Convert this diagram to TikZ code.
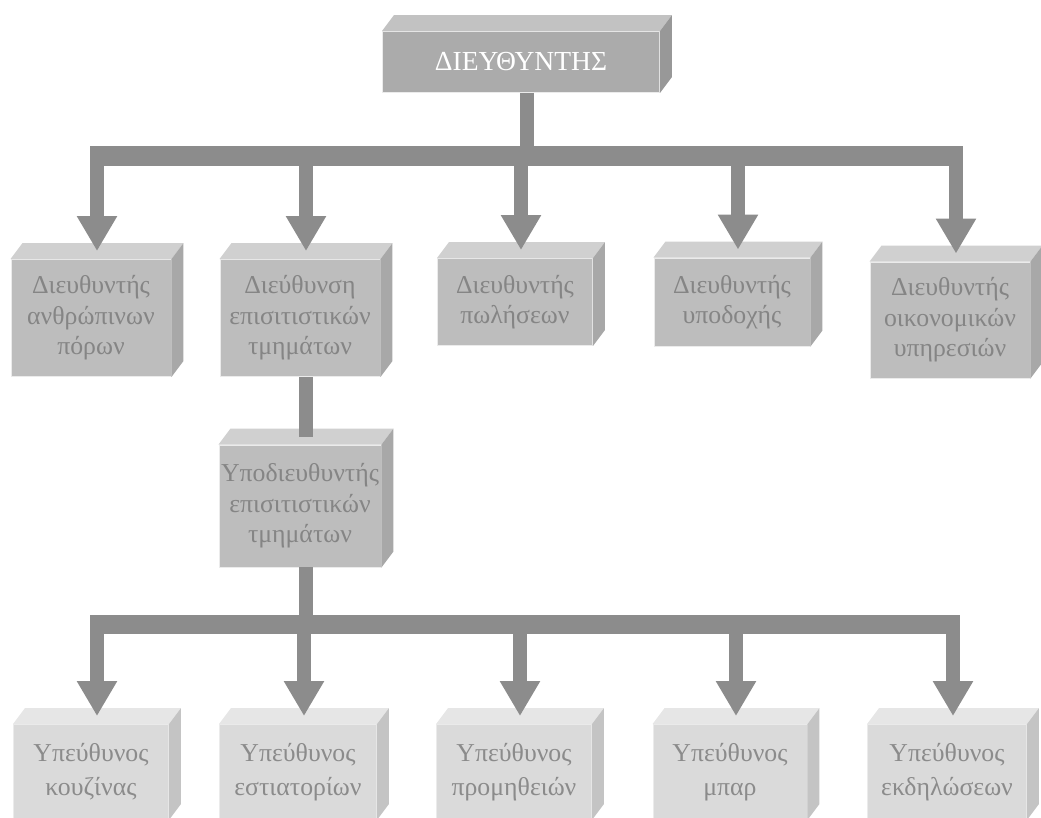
\documentclass[tikz,border=0pt]{standalone}
\usepackage{fontspec}
\setmainfont{Liberation Serif}
\usetikzlibrary{arrows.meta, calc, positioning}
\definecolor{AshFace}{HTML}{BDBDBD}
\definecolor{AshTop}{HTML}{D0D0D0}
\definecolor{AshSide}{HTML}{A8A8A8}
\definecolor{SteelFace}{HTML}{ABABAB}
\definecolor{SteelTop}{HTML}{C2C2C2}
\definecolor{SteelSide}{HTML}{989898}
\definecolor{MistFace}{HTML}{DADADA}
\definecolor{MistTop}{HTML}{E6E6E6}
\definecolor{MistSide}{HTML}{C4C4C4}
\definecolor{InkGray}{HTML}{858585}
\definecolor{PipeGray}{HTML}{8C8C8C}
\newcommand{\BoxFont}{\fontsize{22pt}{26pt}\selectfont}
\newcommand{\HeadFont}{\fontsize{23.5pt}{26pt}\selectfont}
\newcommand{\PaleFont}{\fontsize{22pt}{29pt}\selectfont}

\tikzset{
  block/.style={rectangle, inner sep=0pt, align=center, font=\BoxFont,
    text=InkGray, fill=AshFace, draw=white!70!AshFace, line width=0.8pt},
  headblock/.style={block, fill=SteelFace, text=white, font=\HeadFont},
  paleblock/.style={block, fill=MistFace, text=InkGray!95, font=\PaleFont},
  pipe/.style={draw=PipeGray, line width=0.42cm},
  bus/.style={draw=PipeGray, line width=0.57cm},
  drop/.style={pipe, -{Triangle[width=1.14cm, length=1.05cm]}}
}
% top and right faces of a block, plus the point where arrows land
\newcommand{\BlockFaces}[3]{%
  \fill[#2] (#1.north west) -- ++(12,-16) -- ($(#1.north east)+(12,-16)$) -- (#1.north east) -- cycle;
  \fill[#3] (#1.north east) -- ++(12,-16) -- ($(#1.south east)+(12,-16)$) -- (#1.south east) -- cycle;
  \coordinate (#1-top) at ($(#1.north)+(6,-8)$);}

\begin{document}
\begin{tikzpicture}[x=0.03cm, y=-0.03cm]
  \useasboundingbox (0,0) rectangle (1041,818);
  \clip (0,0) rectangle (1041,818);
  % director
  \node[headblock, minimum width=8.31cm, minimum height=1.83cm] (dir) at (521,62) {ΔΙΕΥΘΥΝΤΗΣ};
  % first level
  \node[block, minimum width=4.8cm, minimum height=3.51cm] (hr) at (91,318) {Διευθυντής\\ανθρώπινων\\πόρων};
  \node[block, minimum width=4.8cm, minimum height=3.51cm] (fb) at (300,318) {Διεύθυνση\\επισιτιστικών\\τμημάτων};
  \node[block, minimum width=4.65cm, minimum height=2.61cm] (sales) at (515,302) {Διευθυντής\\πωλήσεων};
  \node[block, minimum width=4.68cm, minimum height=2.64cm] (front) at (732,302) {Διευθυντής\\υποδοχής};
  \node[block, minimum width=4.8cm, minimum height=3.48cm] (fin) at (950,320) {Διευθυντής\\οικονομικών\\υπηρεσιών};
  % deputy
  \node[block, minimum width=4.86cm, minimum height=3.66cm] (sub) at (300,506) {Υποδιευθυντής\\επισιτιστικών\\τμημάτων};
  % heads of units
  \node[paleblock, minimum width=4.65cm, minimum height=2.85cm] (kitchen) at (91,772) {Υπεύθυνος\\κουζίνας};
  \node[paleblock, minimum width=4.71cm, minimum height=2.85cm] (rest) at (298,772) {Υπεύθυνος\\εστιατορίων};
  \node[paleblock, minimum width=4.65cm, minimum height=2.85cm] (supply) at (514,772) {Υπεύθυνος\\προμηθειών};
  \node[paleblock, minimum width=4.62cm, minimum height=2.85cm] (bar) at (730,772) {Υπεύθυνος\\μπαρ};
  \node[paleblock, minimum width=4.77cm, minimum height=2.85cm] (events) at (947,772) {Υπεύθυνος\\εκδηλώσεων};

  \BlockFaces{dir}{SteelTop}{SteelSide}
  \foreach \n in {hr,fb,sales,front,fin,sub} \BlockFaces{\n}{AshTop}{AshSide};
  \foreach \n in {kitchen,rest,supply,bar,events} \BlockFaces{\n}{MistTop}{MistSide};

  % upper tier
  \coordinate (bus1) at (dir-top |- 0,156);
  \draw[pipe] (dir-top |- dir.south) -- (bus1);
  \draw[bus] ($(hr-top |- bus1)+(-7,0)$) -- ($(fin-top |- bus1)+(7,0)$);
  \foreach \n in {hr,fb,sales,front,fin} \draw[drop] (\n-top |- bus1) -- (\n-top);
  \draw[pipe] (fb-top |- fb.south) -- (sub-top);
  % lower tier
  \coordinate (bus2) at (sub-top |- 0,624);
  \draw[pipe] (sub-top |- sub.south) -- (bus2);
  \draw[bus] ($(kitchen-top |- bus2)+(-7,0)$) -- ($(events-top |- bus2)+(7,0)$);
  \foreach \n in {kitchen,rest,supply,bar,events} \draw[drop] (\n-top |- bus2) -- (\n-top);
\end{tikzpicture}
\end{document}
